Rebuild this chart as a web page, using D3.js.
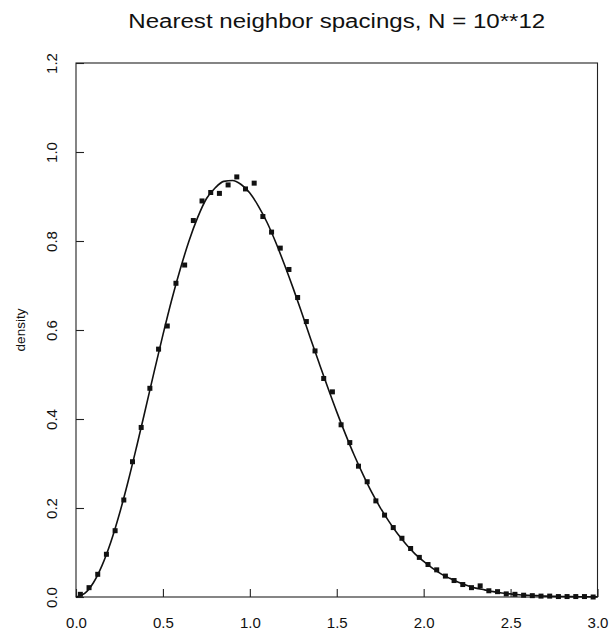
<!DOCTYPE html>
<html>
<head>
<meta charset="utf-8">
<script src="https://cdn.jsdelivr.net/npm/d3@7"></script>
<style>
  body { margin: 0; background: #ffffff; }
  text { font-family: "Liberation Sans", Arial, Helvetica, sans-serif; fill: #111; }
</style>
</head>
<body>
<div id="container"></div>
<script>
let w = 611;
let h = 635;

// histogram of the spacings (bin centres and heights)
let binCentres = [
  0.025, 0.075, 0.125, 0.175, 0.225, 0.275, 0.325, 0.375, 0.425, 0.475,
  0.525, 0.575, 0.625, 0.675, 0.725, 0.775, 0.825, 0.875, 0.925, 0.975,
  1.025, 1.075, 1.125, 1.175, 1.225, 1.275, 1.325, 1.375, 1.425, 1.475,
  1.525, 1.575, 1.625, 1.675, 1.725, 1.775, 1.825, 1.875, 1.925, 1.975,
  2.025, 2.075, 2.125, 2.175, 2.225, 2.275, 2.325, 2.375, 2.425, 2.475,
  2.525, 2.575, 2.625, 2.675, 2.725, 2.775, 2.825, 2.875, 2.925, 2.975
];
let binDensity = [
  0.006, 0.021, 0.051, 0.096, 0.149, 0.218, 0.304, 0.381, 0.469, 0.557,
  0.609, 0.705, 0.746, 0.846, 0.890, 0.909, 0.907, 0.926, 0.944, 0.917,
  0.930, 0.855, 0.820, 0.784, 0.736, 0.673, 0.619, 0.553, 0.491, 0.461,
  0.387, 0.347, 0.294, 0.259, 0.216, 0.184, 0.156, 0.132, 0.109, 0.089,
  0.073, 0.061, 0.047, 0.037, 0.028, 0.021, 0.025, 0.014, 0.012, 0.007,
  0.006, 0.004, 0.003, 0.002, 0.002, 0.001, 0.001, 0.001, 0.001, 0.000
];

// the smooth reference curve
let curveX = [
  0.00, 0.05, 0.10, 0.15, 0.20, 0.25, 0.30, 0.35, 0.40, 0.45,
  0.50, 0.55, 0.60, 0.65, 0.70, 0.75, 0.80, 0.85, 0.90, 0.95,
  1.00, 1.05, 1.10, 1.15, 1.20, 1.25, 1.30, 1.35, 1.40, 1.45,
  1.50, 1.55, 1.60, 1.65, 1.70, 1.75, 1.80, 1.85, 1.90, 1.95,
  2.00, 2.05, 2.10, 2.15, 2.20, 2.25, 2.30, 2.35, 2.40, 2.45,
  2.50, 2.55, 2.60, 2.65, 2.70, 2.75, 2.80, 2.85, 2.90, 2.95, 3.00
];
let curveY = [
  0.000, 0.008, 0.032, 0.071, 0.123, 0.187, 0.260, 0.340, 0.423, 0.507,
  0.589, 0.667, 0.737, 0.800, 0.853, 0.895, 0.919, 0.934, 0.936, 0.927,
  0.908, 0.878, 0.841, 0.796, 0.746, 0.693, 0.637, 0.580, 0.524, 0.469,
  0.416, 0.366, 0.319, 0.276, 0.236, 0.201, 0.170, 0.142, 0.118, 0.097,
  0.080, 0.065, 0.052, 0.042, 0.033, 0.026, 0.020, 0.016, 0.012, 0.009,
  0.007, 0.005, 0.004, 0.003, 0.002, 0.0015, 0.001, 0.0008, 0.0005, 0.0004, 0.0003
];

let xTicks = [0, 0.5, 1.0, 1.5, 2.0, 2.5, 3.0];
let yTicks = [0, 0.2, 0.4, 0.6, 0.8, 1.0, 1.2];

let titleText = "Nearest neighbor spacings, N = 10**12";
let yLabel = "density";

// plot box
let boxLeft = 76, boxRight = 597.5, boxTop = 63, boxBottom = 597;

let viz = d3.select("#container")
  .append("svg")
    .attr("width", w)
    .attr("height", h)
    .style("background-color", "white")
;

let xScale = d3.scaleLinear().domain([0, 3]).range([boxLeft, boxRight]);
let yScale = d3.scaleLinear().domain([0, 1.2]).range([boxBottom, boxTop]);

// x axis, ticks pointing inwards
let xAxis = d3.axisBottom(xScale)
  .tickValues(xTicks)
  .tickFormat(d3.format(".1f"))
  .tickSizeInner(-8)
  .tickSizeOuter(0)
  .tickPadding(20);
let xAxisGroup = viz.append("g").attr("class", "xaxis")
  .attr("transform", "translate(0," + boxBottom + ")")
  .call(xAxis);
xAxisGroup.select(".domain").remove();
xAxisGroup.selectAll("text").style("font-size", "15px").attr("fill", "#111");

// y axis, labels turned on their side
let yAxis = d3.axisLeft(yScale)
  .tickValues(yTicks)
  .tickFormat(d3.format(".1f"))
  .tickSizeInner(-8)
  .tickSizeOuter(0);
let yAxisGroup = viz.append("g").attr("class", "yaxis")
  .attr("transform", "translate(" + boxLeft + ",0)")
  .call(yAxis);
yAxisGroup.select(".domain").remove();
yAxisGroup.selectAll("text")
  .attr("x", null)
  .attr("dy", null)
  .attr("text-anchor", "middle")
  .attr("transform", "translate(-19,0) rotate(-90)")
  .style("font-size", "15px")
  .attr("fill", "#111");

viz.selectAll(".tick line").attr("stroke", "#222").attr("stroke-width", 1.1);

// frame around the plot
viz.append("rect")
  .attr("x", boxLeft)
  .attr("y", boxTop)
  .attr("width", boxRight - boxLeft)
  .attr("height", boxBottom - boxTop)
  .attr("fill", "none")
  .attr("stroke", "#222")
  .attr("stroke-width", 1.1);

// curve
let curveData = curveX.map(function(d, i){ return {x: d, y: curveY[i]}; });
let line = d3.line()
  .x(function(d){ return xScale(d.x); })
  .y(function(d){ return yScale(d.y); })
  .curve(d3.curveMonotoneX);
viz.append("path")
  .datum(curveData)
  .attr("d", line)
  .attr("fill", "none")
  .attr("stroke", "#111")
  .attr("stroke-width", 1.6);

// histogram points
let pts = binCentres.map(function(d, i){ return {x: d, y: binDensity[i]}; });
let s = 5;
viz.append("g").attr("class", "points")
  .selectAll("rect").data(pts).enter()
  .append("rect")
    .attr("x", function(d){ return xScale(d.x) - s / 2; })
    .attr("y", function(d){ return yScale(d.y) - s / 2; })
    .attr("width", s)
    .attr("height", s)
    .attr("fill", "#111");

// title (original glyphs are a bit wide, so stretch them)
viz.append("text")
  .attr("x", (boxLeft + boxRight) / 2)
  .attr("y", 28)
  .attr("text-anchor", "middle")
  .style("font-size", "20px")
  .attr("textLength", 417)
  .attr("lengthAdjust", "spacingAndGlyphs")
  .text(titleText);

// y label
viz.append("text")
  .attr("transform", "translate(25," + yScale(0.6) + ") rotate(-90)")
  .attr("text-anchor", "middle")
  .style("font-size", "13.5px")
  .text(yLabel);
</script>
</body>
</html>
